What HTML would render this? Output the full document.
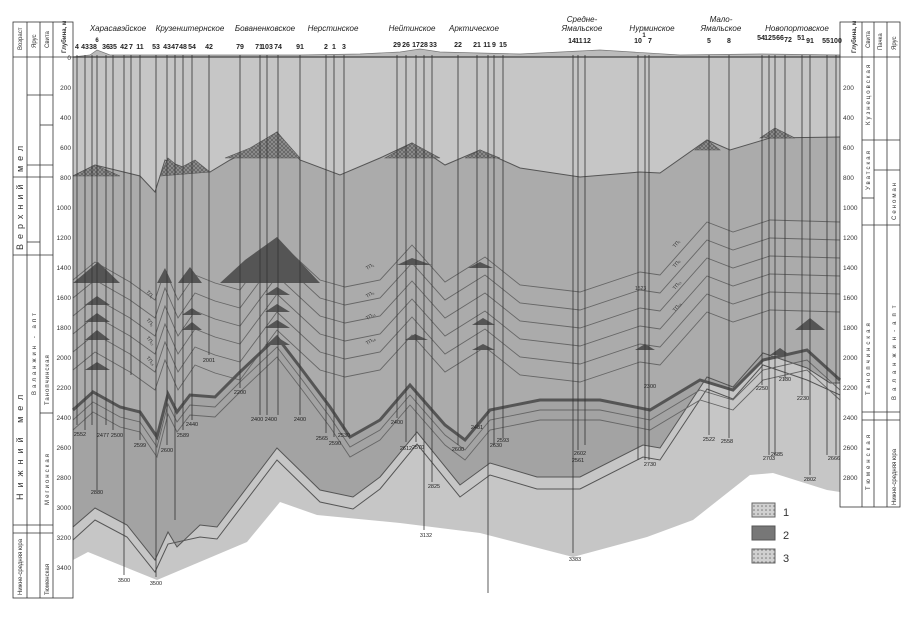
<!DOCTYPE html>
<html><head><meta charset="utf-8"><style>
body{margin:0;background:#fff;width:913px;height:613px;overflow:hidden;font-family:"Liberation Sans",sans-serif}
svg text{font-family:"Liberation Sans",sans-serif}
</style></head><body>
<svg width="913" height="613" viewBox="0 0 913 613" xmlns="http://www.w3.org/2000/svg">
<defs>
<pattern id="p1" width="4" height="4" patternUnits="userSpaceOnUse"><rect width="4" height="4" fill="#8e8e8e"/><path d="M0 0L4 4M4 0L0 4" stroke="#555" stroke-width=".6"/></pattern>
<pattern id="p3" width="4" height="4" patternUnits="userSpaceOnUse"><rect width="4" height="4" fill="#d0d0d0"/><circle cx="2" cy="2" r=".8" fill="#777"/></pattern>
</defs>
<path d="M73 57 L840 57 L840 492 L827 490 L773 473 L750 475 L693 520 L647 537 L573 557 L480 533 L400 523 L317 515 L280 502 L247 542 L157 580 L88 552 L73 560 Z" fill="#c6c6c6"/>
<path d="M73 176 L95 165 L140 176 L155 192 L165 160 L185 168 L210 172 L230 160 L250 150 L277 132 L300 160 L340 175 L380 158 L412 143 L445 165 L480 150 L520 168 L580 177 L640 172 L660 173 L707 140 L730 150 L770 138 L840 137 L840 383 L830 383 L807 368 L763 353 L733 387 L707 377 L660 448 L643 445 L580 477 L537 477 L490 463 L460 485 L417 432 L380 477 L353 497 L320 490 L277 448 L217 527 L200 525 L177 547 L168 532 L155 560 L127 525 L95 508 L73 527 Z" fill="#ababab"/>
<path d="M73 410 L93 392 L120 407 L140 412 L157 437 L168 394 L177 412 L190 395 L215 397 L240 372 L277 337 L300 367 L330 407 L350 437 L380 420 L410 385 L445 425 L465 440 L490 410 L540 400 L600 400 L650 410 L700 380 L733 390 L763 360 L807 350 L840 380 L840 383 L807 368 L763 353 L733 387 L707 377 L660 448 L643 445 L580 477 L537 477 L490 463 L460 485 L417 432 L380 477 L353 497 L320 490 L277 448 L217 527 L200 525 L177 547 L168 532 L155 560 L127 525 L95 508 L73 527 Z" fill="#a3a3a3"/>
<g fill="none" stroke="#555" stroke-width="1">
<path d="M73 176 L95 165 L140 176 L155 192 L165 160 L185 168 L210 172 L230 160 L250 150 L277 132 L300 160 L340 175 L380 158 L412 143 L445 165 L480 150 L520 168 L580 177 L640 172 L660 173 L707 140 L730 150 L770 138 L840 137"/>
<path d="M73 527 L95 508 L127 525 L155 560 L168 532 L177 547 L200 525 L217 527 L277 448 L320 490 L353 497 L380 477 L417 432 L460 485 L490 463 L537 477 L580 477 L643 445 L660 448 L707 377 L733 387 L763 353 L807 368 L830 383 L840 383"/>
<path d="M73 540 L95 520 L127 537 L155 572 L168 544 L200 537 L217 539 L277 460 L320 502 L353 509 L380 489 L417 444 L460 497 L490 475 L537 489 L580 489 L643 457 L660 460 L707 389 L733 399 L763 365 L807 380 L840 395"/>
</g>
<g fill="none" stroke="#666" stroke-width=".9">
<path id="r" d="M73 280 L95 262 L130 282 L155 300 L165 270 L178 300 L195 275 L215 283 L240 290 L277 240 L320 280 L345 287 L380 280 L412 245 L445 282 L485 257 L520 285 L580 292 L640 272 L660 275 L707 222 L733 232 L770 220 L840 222"/>
<use href="#r" y="18"/><use href="#r" y="36"/><use href="#r" y="54"/><use href="#r" y="72"/><use href="#r" y="90"/>
</g>
<g fill="none" stroke="#555" stroke-width="3">
<path d="M73 410 L93 392 L120 407 L140 412 L157 437 L168 394 L177 412 L190 395 L215 397 L240 372 L277 337 L300 367 L330 407 L350 437 L380 420 L410 385 L445 425 L465 440 L490 410 L540 400 L600 400 L650 410 L700 380 L733 390 L763 360 L807 350 L840 380"/>
</g>
<g fill="none" stroke="#666" stroke-width=".9">
<path d="M73 420 L93 402 L120 417 L140 422 L157 447 L168 404 L177 422 L190 405 L215 407 L240 382 L277 347 L300 377 L330 417 L350 447 L380 430 L410 395 L445 435 L465 450 L490 420 L540 410 L600 410 L650 420 L700 390 L733 400 L763 370 L807 360 L840 390"/>
<path d="M73 430 L93 412 L120 427 L140 432 L157 457 L168 414 L177 432 L190 415 L215 417 L240 392 L277 357 L300 387 L330 427 L350 457 L380 440 L410 405 L445 445 L465 460 L490 430 L540 420 L600 420 L650 430 L700 400 L733 410 L763 380 L807 370 L840 400"/>
</g>
<g fill="url(#p1)" stroke="#555" stroke-width=".6">
<path d="M73 176 L95 165 L120 176 Z"/><path d="M160 176 L168 158 L180 168 L195 160 L210 172Z"/>
<path d="M225 158 L250 148 L277 132 L300 158Z"/><path d="M385 158 L412 143 L440 158Z"/><path d="M465 158 L480 150 L500 158Z"/>
<path d="M695 150 L707 140 L720 150Z"/><path d="M760 138 L775 128 L795 138Z"/>
</g>
<g fill="#555">
<path d="M73 283 L98 262 L120 283Z"/><path d="M157 283 L165 268 L172 283Z"/><path d="M178 283 L190 267 L202 283Z"/>
<path d="M220 283 L245 260 L277 237 L320 283Z"/><path d="M397 265 L412 258 L432 265Z"/><path d="M468 268 L480 262 L493 268Z"/>
<path d="M85 305 L97 296 L110 305Z"/><path d="M85 322 L97 313 L110 322Z"/><path d="M85 340 L97 330 L110 340Z"/><path d="M85 370 L97 362 L110 370Z"/>
<path d="M182 315 L192 308 L202 315Z"/><path d="M182 330 L192 322 L202 330Z"/>
<path d="M265 295 L277 287 L290 295Z"/><path d="M265 312 L277 304 L290 312Z"/><path d="M265 328 L277 320 L290 328Z"/><path d="M265 345 L277 337 L290 345Z"/>
<path d="M405 340 L415 334 L428 340Z"/><path d="M472 325 L483 318 L495 325Z"/><path d="M472 350 L483 344 L495 350Z"/>
<path d="M635 350 L645 344 L655 350Z"/><path d="M770 355 L780 348 L790 355Z"/><path d="M795 330 L810 318 L825 330Z"/>
</g>
<path d="M73 57 L90 55 L97 50 L110 55 L160 55 L220 55 L300 55 L360 54 L400 52 L420 49 L440 52 L520 54 L600 50 L680 55 L760 54 L840 55 L840 57Z" fill="#bbb" stroke="#777" stroke-width=".7"/>
<line x1="73" y1="57" x2="840" y2="57" stroke="#444" stroke-width="1.2"/>
<g stroke="#333" stroke-width=".8">
<line x1="77" y1="55" x2="77" y2="425"/><line x1="85" y1="55" x2="85" y2="430"/><line x1="92" y1="55" x2="92" y2="425"/><line x1="97" y1="55" x2="97" y2="490"/><line x1="106" y1="55" x2="106" y2="425"/><line x1="113" y1="55" x2="113" y2="430"/><line x1="124" y1="55" x2="124" y2="575"/><line x1="131" y1="55" x2="131" y2="375"/><line x1="140" y1="55" x2="140" y2="440"/>
<line x1="156" y1="55" x2="156" y2="577"/><line x1="167" y1="55" x2="167" y2="445"/><line x1="175" y1="55" x2="175" y2="520"/><line x1="183" y1="55" x2="183" y2="430"/><line x1="192" y1="55" x2="192" y2="420"/><line x1="209" y1="55" x2="209" y2="355"/>
<line x1="240" y1="55" x2="240" y2="388"/><line x1="260" y1="55" x2="260" y2="415"/><line x1="267" y1="55" x2="267" y2="415"/><line x1="278" y1="55" x2="278" y2="415"/><line x1="300" y1="55" x2="300" y2="415"/>
<line x1="326" y1="55" x2="326" y2="433"/><line x1="334" y1="55" x2="334" y2="437"/><line x1="344" y1="55" x2="344" y2="430"/>
<line x1="397" y1="55" x2="397" y2="418"/><line x1="406" y1="55" x2="406" y2="442"/><line x1="416" y1="55" x2="416" y2="442"/><line x1="424" y1="55" x2="424" y2="530"/><line x1="432" y1="55" x2="432" y2="482"/>
<line x1="458" y1="55" x2="458" y2="445"/><line x1="477" y1="55" x2="477" y2="425"/><line x1="488" y1="55" x2="488" y2="593"/><line x1="494" y1="55" x2="494" y2="445"/><line x1="503" y1="55" x2="503" y2="438"/>
<line x1="573" y1="55" x2="573" y2="553"/><line x1="578" y1="55" x2="578" y2="450"/><line x1="585" y1="55" x2="585" y2="445"/>
<line x1="638" y1="55" x2="638" y2="460"/><line x1="645" y1="55" x2="645" y2="460"/><line x1="649" y1="55" x2="649" y2="460"/>
<line x1="709" y1="55" x2="709" y2="435"/><line x1="729" y1="55" x2="729" y2="438"/>
<line x1="762" y1="55" x2="762" y2="385"/><line x1="769" y1="55" x2="769" y2="455"/><line x1="775" y1="55" x2="775" y2="455"/><line x1="785" y1="55" x2="785" y2="380"/><line x1="802" y1="55" x2="802" y2="395"/><line x1="810" y1="55" x2="810" y2="475"/><line x1="827" y1="55" x2="827" y2="455"/><line x1="836" y1="55" x2="836" y2="455"/>
</g>
<g font-size="5.5" fill="#222" text-anchor="middle">
<text x="80" y="436">2552</text><text x="103" y="437">2477</text><text x="117" y="437">2500</text><text x="124" y="582">3500</text><text x="97" y="494">2880</text>
<text x="140" y="447">2599</text><text x="167" y="452">2600</text><text x="183" y="437">2589</text><text x="192" y="426">2440</text><text x="156" y="585">3500</text><text x="209" y="362">2001</text>
<text x="240" y="394">2200</text><text x="264" y="421">2400 2400</text><text x="300" y="421">2400</text><text x="322" y="440">2565</text><text x="335" y="445">2590</text><text x="344" y="437">2530</text>
<text x="397" y="424">2400</text><text x="406" y="450">2612</text><text x="418" y="449">2570</text><text x="426" y="537">3132</text><text x="434" y="488">2825</text>
<text x="458" y="451">2600</text><text x="477" y="429">2481</text><text x="496" y="447">2630</text><text x="503" y="442">2593</text>
<text x="575" y="561">3383</text><text x="580" y="455">2602</text><text x="578" y="462">2561</text><text x="650" y="466">2730</text><text x="650" y="388">2300</text>
<text x="709" y="441">2522</text><text x="727" y="443">2558</text><text x="762" y="390">2250</text><text x="769" y="460">2703</text><text x="777" y="456">2685</text><text x="785" y="381">2130</text><text x="803" y="400">2230</text><text x="810" y="481">2802</text><text x="834" y="460">2666</text>
</g>
<g font-size="7" font-weight="bold" fill="#222" text-anchor="middle">
<text x="77" y="49">4</text><text x="85" y="49">43</text><text x="93" y="49">38</text><text x="97" y="42" font-size="6">6</text><text x="106" y="49">36</text><text x="113" y="49">35</text><text x="124" y="49">42</text><text x="131" y="49">7</text><text x="140" y="49">11</text>
<text x="156" y="49">53</text><text x="167" y="49">43</text><text x="175" y="49">47</text><text x="183" y="49">48</text><text x="192" y="49">54</text><text x="209" y="49">42</text>
<text x="240" y="49">79</text><text x="259" y="49">71</text><text x="267" y="49">103</text><text x="278" y="49">74</text><text x="300" y="49">91</text>
<text x="326" y="49">2</text><text x="334" y="49">1</text><text x="344" y="49">3</text>
<text x="397" y="47">29</text><text x="406" y="47">26</text><text x="416" y="47">17</text><text x="424" y="47">28</text><text x="433" y="47">33</text>
<text x="458" y="47">22</text><text x="477" y="47">21</text><text x="487" y="47">11</text><text x="494" y="47">9</text><text x="503" y="47">15</text>
<text x="572" y="43">14</text><text x="579" y="43">11</text><text x="587" y="43">12</text>
<text x="638" y="43">10</text><text x="644" y="37" font-size="6">1</text><text x="650" y="43">7</text>
<text x="709" y="43">5</text><text x="729" y="43">8</text>
<text x="761" y="40">54</text><text x="770" y="40">125</text><text x="780" y="40">66</text><text x="788" y="42">72</text><text x="801" y="40">51</text><text x="810" y="43">91</text><text x="826" y="43">55</text><text x="836" y="43">100</text>
</g>
<g font-size="8" font-style="italic" fill="#222" text-anchor="middle">
<text x="118" y="31">Харасавэйское</text><text x="190" y="31">Крузенштернское</text><text x="265" y="31">Бованенковское</text><text x="333" y="31">Нерстинское</text>
<text x="412" y="31">Нейтинское</text><text x="474" y="31">Арктическое</text><text x="582" y="22">Средне-</text><text x="582" y="31">Ямальское</text>
<text x="652" y="31">Нурминское</text><text x="721" y="22">Мало-</text><text x="721" y="31">Ямальское</text><text x="797" y="31">Новопортовское</text>
</g>
<g font-size="5" fill="#333">
<text x="146" y="292" transform="rotate(50 146 292)">ТП₁</text><text x="146" y="320" transform="rotate(50 146 320)">ТП₅</text><text x="146" y="338" transform="rotate(50 146 338)">ТП₁₁</text><text x="146" y="358" transform="rotate(50 146 358)">ТП₁₆</text>
<text x="367" y="270" transform="rotate(-30 367 270)">ТП₁</text><text x="367" y="298" transform="rotate(-30 367 298)">ТП₅</text><text x="367" y="320" transform="rotate(-30 367 320)">ТП₁₁</text><text x="367" y="345" transform="rotate(-30 367 345)">ТП₁₆</text>
<text x="675" y="248" transform="rotate(-50 675 248)">ТП₁</text><text x="675" y="268" transform="rotate(-50 675 268)">ТП₆</text><text x="675" y="290" transform="rotate(-50 675 290)">ТП₁₁</text><text x="675" y="312" transform="rotate(-50 675 312)">ТП₁₆</text>
<text x="635" y="290">1523</text>
</g>
<rect x="752" y="503" width="23" height="14" fill="url(#p3)" stroke="#666"/><text x="783" y="516" font-size="11" fill="#333">1</text>
<rect x="752" y="526" width="23" height="14" fill="#777" stroke="#555"/><text x="783" y="539" font-size="11" fill="#333">2</text>
<rect x="752" y="549" width="23" height="14" fill="url(#p3)" stroke="#666"/><text x="783" y="562" font-size="11" fill="#333">3</text>
<g fill="none" stroke="#333" stroke-width=".8">
<rect x="13" y="22" width="60" height="576"/>
<line x1="27" y1="22" x2="27" y2="598"/><line x1="40" y1="22" x2="40" y2="598"/><line x1="53" y1="22" x2="53" y2="598"/>
<line x1="13" y1="57" x2="73" y2="57"/><line x1="27" y1="95" x2="53" y2="95"/><line x1="40" y1="125" x2="53" y2="125"/><line x1="27" y1="165" x2="53" y2="165"/>
<line x1="13" y1="177" x2="53" y2="177"/><line x1="13" y1="525" x2="53" y2="525"/><line x1="13" y1="533" x2="53" y2="533"/>
<line x1="27" y1="242" x2="40" y2="242"/><line x1="13" y1="255" x2="53" y2="255"/><line x1="40" y1="413" x2="53" y2="413"/>
</g>
<g font-size="6" fill="#333">
<text transform="translate(22 50) rotate(-90)">Возраст</text><text transform="translate(36 48) rotate(-90)">Ярус</text><text transform="translate(49 48) rotate(-90)">Свита</text>
<text transform="translate(66 53) rotate(-90)" font-weight="bold">Глубина, м</text>
<text transform="translate(23 250) rotate(-90)" font-size="9" letter-spacing="5">Верхний мел</text>
<text transform="translate(23 500) rotate(-90)" font-size="9" letter-spacing="6">Нижний мел</text>
<text transform="translate(36 395) rotate(-90)" letter-spacing="3">Валанжин - апт</text>
<text transform="translate(49 505) rotate(-90)" letter-spacing="2">Мегионская</text>
<text transform="translate(49 405) rotate(-90)" letter-spacing="1">Танопчинская</text>
<text transform="translate(22 595) rotate(-90)">Нижне-средняя юра</text>
<text transform="translate(49 595) rotate(-90)">Тюменская</text>
</g>
<g font-size="6.5" fill="#333" text-anchor="end">
<text x="71" y="60">0</text><text x="71" y="90">200</text><text x="71" y="120">400</text><text x="71" y="150">600</text><text x="71" y="180">800</text><text x="71" y="210">1000</text><text x="71" y="240">1200</text><text x="71" y="270">1400</text><text x="71" y="300">1600</text><text x="71" y="330">1800</text><text x="71" y="360">2000</text><text x="71" y="390">2200</text><text x="71" y="420">2400</text><text x="71" y="450">2600</text><text x="71" y="480">2800</text><text x="71" y="510">3000</text><text x="71" y="540">3200</text><text x="71" y="570">3400</text>
</g>
<g fill="none" stroke="#333" stroke-width=".8">
<rect x="840" y="22" width="60" height="485"/>
<line x1="862" y1="22" x2="862" y2="507"/><line x1="874" y1="22" x2="874" y2="507"/><line x1="887" y1="22" x2="887" y2="507"/>
<line x1="840" y1="57" x2="900" y2="57"/><line x1="862" y1="140" x2="900" y2="140"/><line x1="862" y1="198" x2="874" y2="198"/><line x1="862" y1="225" x2="900" y2="225"/>
<line x1="874" y1="170" x2="900" y2="170"/><line x1="862" y1="412" x2="900" y2="412"/><line x1="862" y1="420" x2="900" y2="420"/>
</g>
<g font-size="6.5" fill="#333">
<text x="843" y="90">200</text><text x="843" y="120">400</text><text x="843" y="150">600</text><text x="843" y="180">800</text><text x="843" y="210">1000</text><text x="843" y="240">1200</text><text x="843" y="270">1400</text><text x="843" y="300">1600</text><text x="843" y="330">1800</text><text x="843" y="360">2000</text><text x="843" y="390">2200</text><text x="843" y="420">2400</text><text x="843" y="450">2600</text><text x="843" y="480">2800</text>
</g>
<g font-size="6" fill="#333">
<text transform="translate(856 53) rotate(-90)" font-weight="bold">Глубина, м</text><text transform="translate(870 48) rotate(-90)">Свита</text><text transform="translate(882 50) rotate(-90)">Пачка</text><text transform="translate(896 50) rotate(-90)">Ярус</text>
<text transform="translate(870 125) rotate(-90)" letter-spacing="2">Кузнецовская</text>
<text transform="translate(870 190) rotate(-90)" letter-spacing="2">Уватская</text>
<text transform="translate(896 220) rotate(-90)" letter-spacing="2">Сеноман</text>
<text transform="translate(870 395) rotate(-90)" letter-spacing="3">Танопчинская</text>
<text transform="translate(896 400) rotate(-90)" letter-spacing="5">Валанжин-апт</text>
<text transform="translate(870 490) rotate(-90)" letter-spacing="3">Тюменская</text>
<text transform="translate(896 505) rotate(-90)">Нижне-средняя юра</text>
</g>
</svg>
</body></html>
